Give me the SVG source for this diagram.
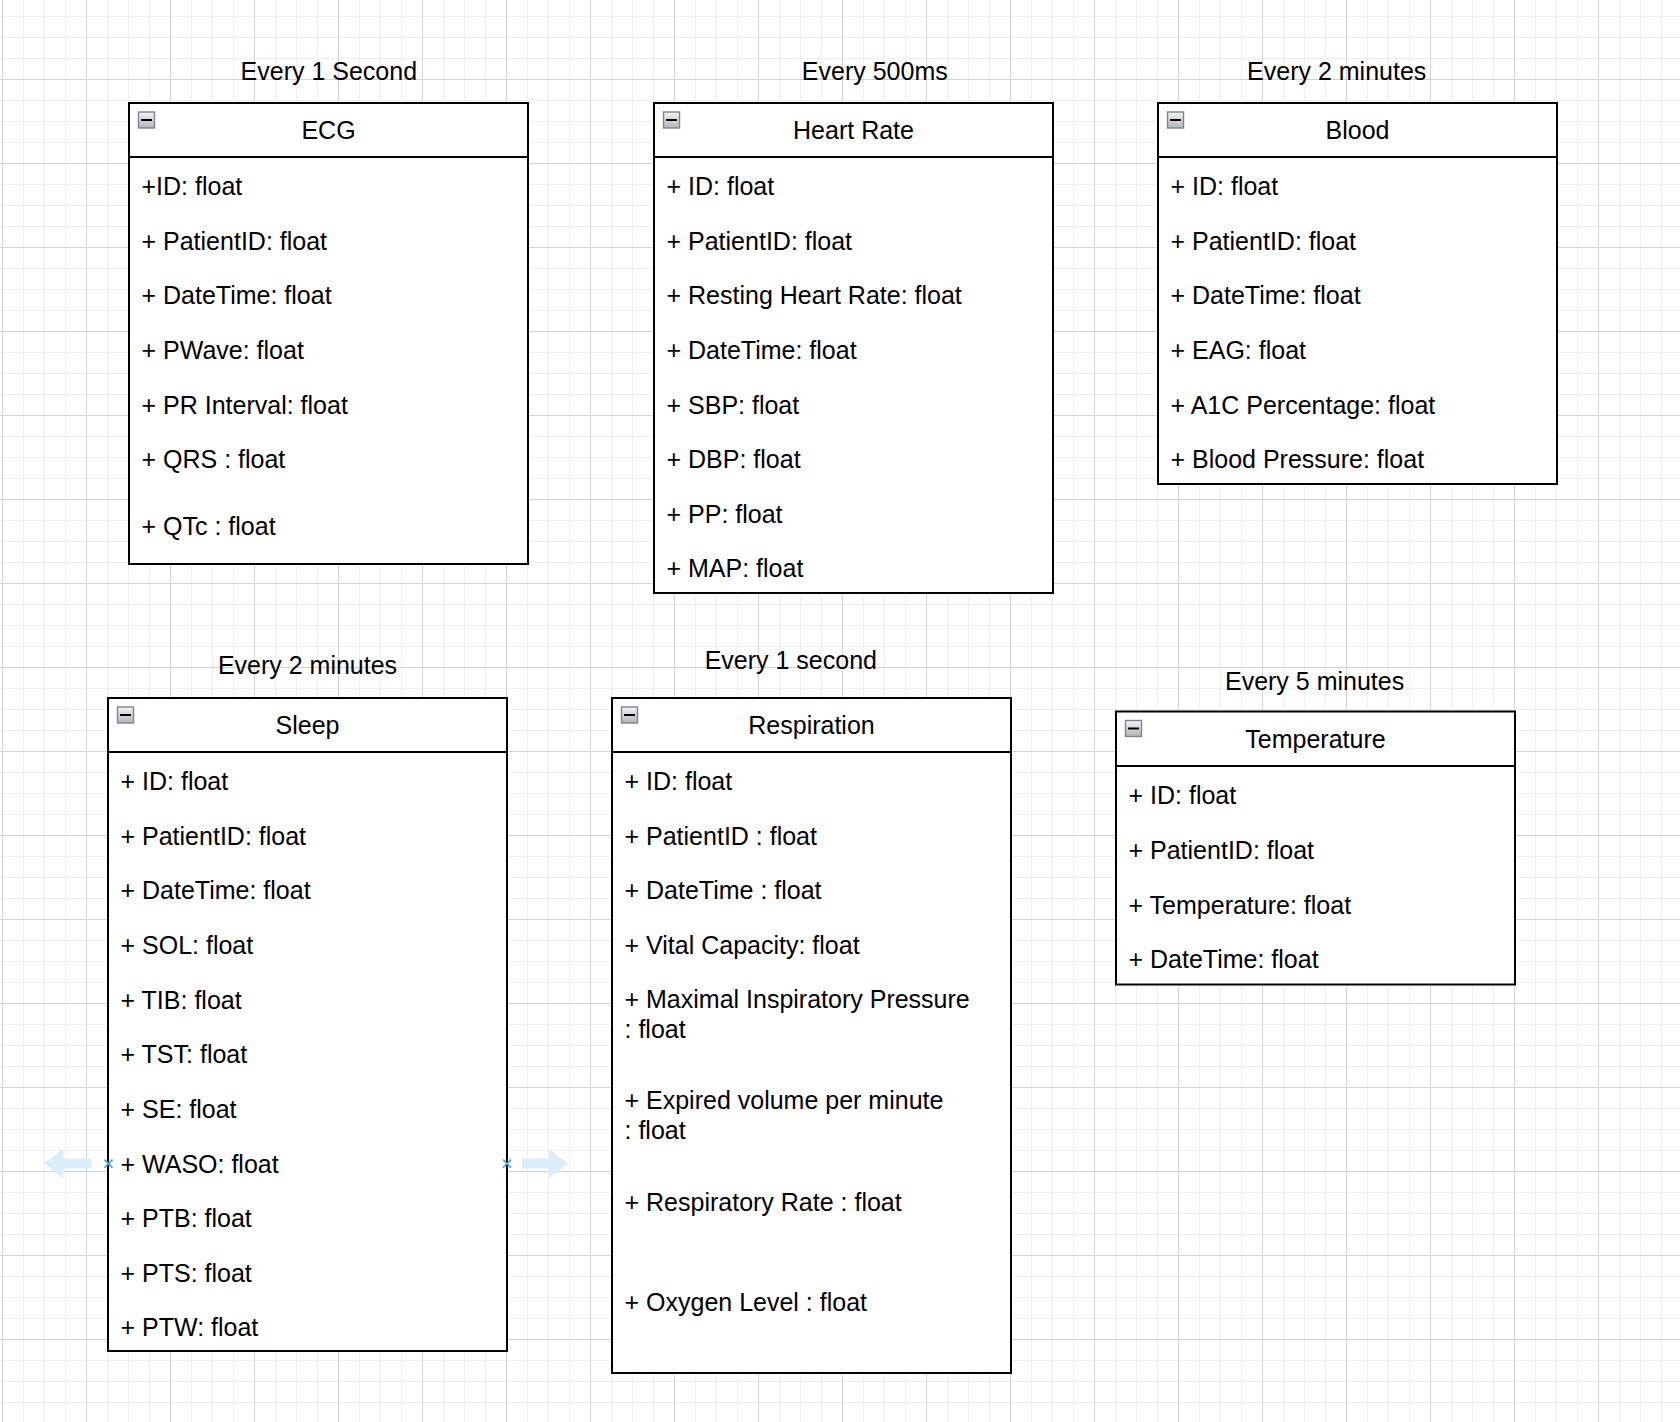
<svg xmlns="http://www.w3.org/2000/svg" width="1680" height="1422" viewBox="0 0 1680 1422">
<style>
.t{font-family:"Liberation Sans",Arial,Helvetica,sans-serif;font-size:25px;fill:#000}
.c{text-anchor:middle}
.box{fill:#fff;stroke:#000;stroke-width:2}
.hl{stroke:#000;stroke-width:2;fill:none}
.hx{stroke:#4da3e3;stroke-width:1.6;fill:none}
.ha{fill:#dcedfa}
</style>
<defs>
<pattern id="grid" x="2" y="-5" width="84" height="84" patternUnits="userSpaceOnUse">
<path d="M21.5 0V84M42.5 0V84M63.5 0V84M0 21.5H84M0 42.5H84M0 63.5H84" stroke="#efefef" stroke-width="1" fill="none"/>
<path d="M0.5 0V84M0 0.5H84" stroke="#d4d4d4" stroke-width="1" fill="none"/>
</pattern>
<linearGradient id="mg" x1="0" y1="0" x2="0" y2="1">
<stop offset="0" stop-color="#f4f4f4"/>
<stop offset="1" stop-color="#b4b4b8"/>
</linearGradient>
<g id="minus">
<rect x="0.5" y="0.5" width="16" height="16" fill="url(#mg)" stroke="#7d8494" stroke-width="1.4"/>
<path d="M3 8.5H14" stroke="#000" stroke-width="2"/>
</g>
</defs>
<rect width="1680" height="1422" fill="#fff"/>
<rect width="1680" height="1422" fill="url(#grid)"/>

<g id="connectors"></g>

<g id="ecg">
<text class="t c" x="328.8" y="80">Every 1 Second</text>
<rect class="box" x="129" y="103" width="399" height="461"/>
<path class="hl" d="M129 157H528"/>
<use href="#minus" x="138" y="111.5"/>
<text class="t c" x="328.5" y="139">ECG</text>
<text class="t" x="141.5" y="194.8">+ID: float</text>
<text class="t" x="141.5" y="249.5">+ PatientID: float</text>
<text class="t" x="141.5" y="304.2">+ DateTime: float</text>
<text class="t" x="141.5" y="358.9">+ PWave: float</text>
<text class="t" x="141.5" y="413.5">+ PR Interval: float</text>
<text class="t" x="141.5" y="468.2">+ QRS : float</text>
<text class="t" x="141.5" y="534.5">+ QTc : float</text>
</g>

<g id="heart-rate">
<text class="t c" x="874.8" y="80">Every 500ms</text>
<rect class="box" x="654" y="103" width="399" height="490"/>
<path class="hl" d="M654 157H1053"/>
<use href="#minus" x="663" y="111.5"/>
<text class="t c" x="853.5" y="139">Heart Rate</text>
<text class="t" x="666.5" y="194.8">+ ID: float</text>
<text class="t" x="666.5" y="249.5">+ PatientID: float</text>
<text class="t" x="666.5" y="304.2">+ Resting Heart Rate: float</text>
<text class="t" x="666.5" y="358.9">+ DateTime: float</text>
<text class="t" x="666.5" y="413.5">+ SBP: float</text>
<text class="t" x="666.5" y="468.2">+ DBP: float</text>
<text class="t" x="666.5" y="522.9">+ PP: float</text>
<text class="t" x="666.5" y="577.3">+ MAP: float</text>
</g>

<g id="blood">
<text class="t c" x="1336.7" y="80">Every 2 minutes</text>
<rect class="box" x="1158" y="103" width="399" height="381"/>
<path class="hl" d="M1158 157H1557"/>
<use href="#minus" x="1167" y="111.5"/>
<text class="t c" x="1357.5" y="139">Blood</text>
<text class="t" x="1170.5" y="194.8">+ ID: float</text>
<text class="t" x="1170.5" y="249.5">+ PatientID: float</text>
<text class="t" x="1170.5" y="304.2">+ DateTime: float</text>
<text class="t" x="1170.5" y="358.9">+ EAG: float</text>
<text class="t" x="1170.5" y="413.5">+ A1C Percentage: float</text>
<text class="t" x="1170.5" y="468.2">+ Blood Pressure: float</text>
</g>

<g id="sleep">
<text class="t c" x="307.5" y="674">Every 2 minutes</text>
<rect class="box" x="108" y="698" width="399" height="653"/>
<path class="hl" d="M108 752H507"/>
<use href="#minus" x="117" y="706.5"/>
<text class="t c" x="307.5" y="733.8">Sleep</text>
<text class="t" x="120.5" y="789.8">+ ID: float</text>
<text class="t" x="120.5" y="844.5">+ PatientID: float</text>
<text class="t" x="120.5" y="899.2">+ DateTime: float</text>
<text class="t" x="120.5" y="953.8">+ SOL: float</text>
<text class="t" x="120.5" y="1008.5">+ TIB: float</text>
<text class="t" x="120.5" y="1063.2">+ TST: float</text>
<text class="t" x="120.5" y="1117.8">+ SE: float</text>
<text class="t" x="120.5" y="1172.5">+ WASO: float</text>
<text class="t" x="120.5" y="1227.2">+ PTB: float</text>
<text class="t" x="120.5" y="1281.8">+ PTS: float</text>
<text class="t" x="120.5" y="1336.3">+ PTW: float</text>
</g>

<g id="respiration">
<text class="t c" x="790.8" y="668.5">Every 1 second</text>
<rect class="box" x="612" y="698" width="399" height="675"/>
<path class="hl" d="M612 752H1011"/>
<use href="#minus" x="621" y="706.5"/>
<text class="t c" x="811.5" y="733.8">Respiration</text>
<text class="t" x="624.5" y="789.8">+ ID: float</text>
<text class="t" x="624.5" y="844.5">+ PatientID : float</text>
<text class="t" x="624.5" y="899.2">+ DateTime : float</text>
<text class="t" x="624.5" y="953.8">+ Vital Capacity: float</text>
<text class="t" x="624.5" y="1008">+ Maximal Inspiratory Pressure</text>
<text class="t" x="624.5" y="1038">: float</text>
<text class="t" x="624.5" y="1109.3">+ Expired volume per minute</text>
<text class="t" x="624.5" y="1139.3">: float</text>
<text class="t" x="624.5" y="1210.5">+ Respiratory Rate : float</text>
<text class="t" x="624.5" y="1310.5">+ Oxygen Level : float</text>
</g>

<g id="temperature">
<text class="t c" x="1314.6" y="689.5">Every 5 minutes</text>
<rect class="box" x="1116" y="711.5" width="399" height="273"/>
<path class="hl" d="M1116 766H1515"/>
<use href="#minus" x="1125" y="720"/>
<text class="t c" x="1315.5" y="748">Temperature</text>
<text class="t" x="1128.5" y="804.3">+ ID: float</text>
<text class="t" x="1128.5" y="859">+ PatientID: float</text>
<text class="t" x="1128.5" y="913.7">+ Temperature: float</text>
<text class="t" x="1128.5" y="968.3">+ DateTime: float</text>
</g>

<g id="hover-handles">
<path class="ha" d="M44 1163.6L63 1149.1V1158.6H91V1168.6H63V1178.1Z"/>
<path class="ha" d="M568 1163.6L549 1149.1V1158.6H522V1168.6H549V1178.1Z"/>
<path class="hx" d="M104.5 1159.6L112.5 1167.6M112.5 1159.6L104.5 1167.6"/>
<path class="hx" d="M503 1159.6L511 1167.6M511 1159.6L503 1167.6"/>
</g>
</svg>
